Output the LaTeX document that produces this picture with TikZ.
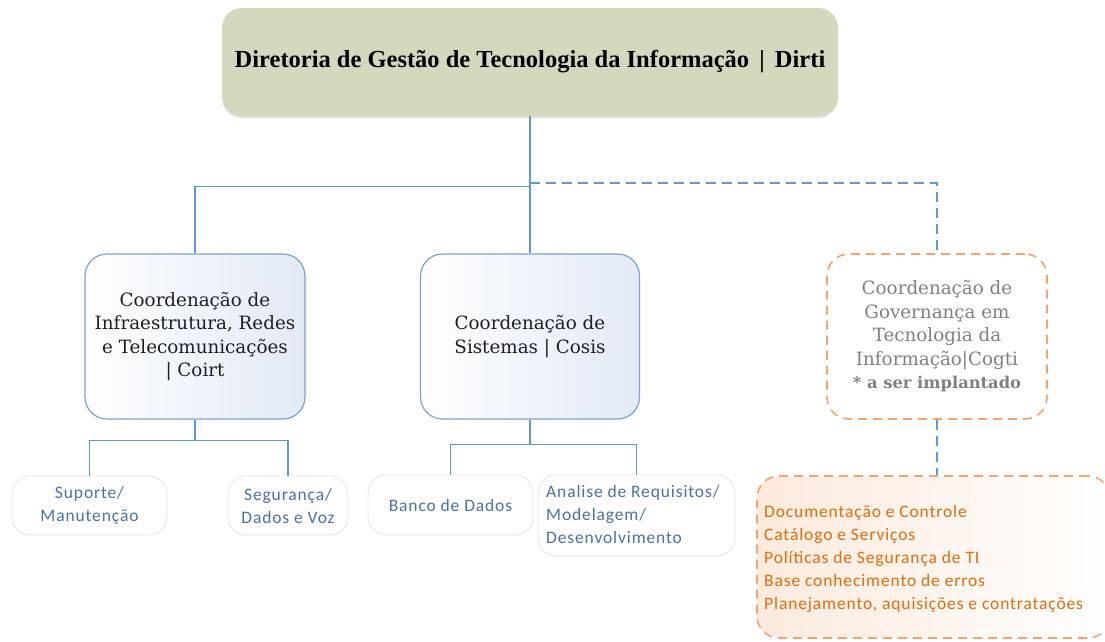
\documentclass[tikz,border=0pt]{standalone}
\usepackage{fontspec}
\setmainfont{Liberation Serif}
\newfontfamily\djsfont{DejaVu Serif}
\newfontfamily\carlfont[LetterSpace=5]{Carlito}
\usetikzlibrary{shadows,calc}
\definecolor{topfill}{HTML}{D6D8BE}
\definecolor{lineblue}{HTML}{5B9BD5}
\definecolor{boxblue}{HTML}{7BA3D4}
\definecolor{lightblue}{HTML}{E2EAF6}
\definecolor{orng}{HTML}{F4A46E}
\definecolor{orngtext}{HTML}{E46C0A}
\definecolor{peach}{HTML}{FDEADD}
\definecolor{subtext}{HTML}{4A72A6}
\definecolor{subborder}{HTML}{E2E4E8}
\definecolor{graytext}{HTML}{808080}
\tikzset{
  topbox/.style={draw=none, fill=topfill, rounded corners=20pt, minimum width=616pt, minimum height=108pt,
    drop shadow={shadow xshift=0pt, shadow yshift=-2pt, opacity=0.25, fill=gray}, font=\bfseries\fontsize{24.5}{28}\selectfont, inner sep=0pt},
  coordbox/.style={draw=boxblue, line width=1.2pt, rounded corners=22pt, shading=axis, shading angle=-60, left color=white, right color=lightblue,
    minimum width=220pt, minimum height=165pt, align=center, font=\djsfont\fontsize{18.3}{23.5}\selectfont, text=black!88, inner sep=0pt},
  govbox/.style={draw=orng, line width=1.6pt, dash pattern=on 9pt off 6pt, rounded corners=22pt, fill=white,
    minimum width=220pt, minimum height=165pt, align=center, font=\djsfont\fontsize{18.3}{23.5}\selectfont, text=graytext, inner sep=0pt},
  subbox/.style={draw=subborder, line width=0.8pt, rounded corners=18pt, fill=white,
    align=center, font=\carlfont\fontsize{17.5}{23}\selectfont, text=subtext, inner sep=0pt},
  listbox/.style={draw=orng, line width=1.6pt, dash pattern=on 9pt off 6pt, rounded corners=22pt, shading=axis, shading angle=-60, left color=peach, right color=white,
    minimum width=353pt, minimum height=162pt, inner sep=0pt},
  conn/.style={draw=lineblue, line width=1.2pt},
  dconn/.style={draw=lineblue, line width=1.5pt, dash pattern=on 10pt off 6pt},
}
\begin{document}
\begin{tikzpicture}[x=1pt,y=-1pt]
\clip (0,0) rectangle (1105,641);
\fill[white] (0,0) rectangle (1105,641);
% nodes
\node[topbox] (top) at (530,62) {Diretoria de Gestão de Tecnologia da Informação \,|\, Dirti};
\node[coordbox] (coirt) at (195,336.5) {Coordenação de\\Infraestrutura, Redes\\e Telecomunicações\\| Coirt};
\node[coordbox, minimum width=219pt] (cosis) at (530,336.5) {Coordenação de\\Sistemas | Cosis};
\node[govbox] (cogti) at (937,336.5) {Coordenação de\\Governança em\\Tecnologia da\\Informação|Cogti\\{\fontsize{16.3}{23.5}\selectfont\bfseries * a ser implantado}};
\node[subbox, minimum width=155pt, minimum height=59pt] (sup) at (89.5,505.5) {Suporte/\\Manutenção};
\node[subbox, minimum width=120pt, minimum height=59pt] (seg) at (288,505.5) {Segurança/\\Dados e Voz};
\node[subbox, minimum width=165pt, minimum height=60pt] (banco) at (450.5,505) {Banco de Dados};
\node[subbox, minimum width=197pt, minimum height=81pt, align=left] (anal) at (636.5,515.5) {};
\node[anchor=north west, inner sep=0pt, align=left, font=\carlfont\fontsize{17.5}{23}\selectfont, text=subtext] (analtext) at (546,485) {Analise de Requisitos/\\Modelagem/\\Desenvolvimento};
\node[listbox] (gov) at (933.5,557) {};
\node[anchor=north west, inner sep=0pt, align=left, font=\carlfont\fontsize{17.5}{23}\selectfont, text=orngtext] (govtext) at (764,505) {Documentação e Controle\\Catálogo e Serviços\\Políticas de Segurança de TI\\Base conhecimento de erros\\Planejamento, aquisições e contratações};
% connectors
\coordinate (hub) at ($(top.south)+(0,70)$);
\coordinate (dhub) at ($(top.south)+(0,67)$);
\draw[conn] (top.south) -- (cosis.north);
\draw[conn] (hub) -| (coirt.north);
\draw[dconn] (dhub) -| (cogti.north);
\coordinate (h1) at ($(coirt.south)+(0,21)$);
\draw[conn] (coirt.south) -- (h1);
\draw[conn] (sup.north) |- (h1) -| (seg.north);
\coordinate (h2) at ($(cosis.south)+(0,25)$);
\draw[conn] (cosis.south) -- (h2);
\draw[conn] (banco.north) |- (h2) -| (anal.north);
\draw[dconn] (cogti.south) -- (cogti.south |- gov.north);
\end{tikzpicture}
\end{document}
